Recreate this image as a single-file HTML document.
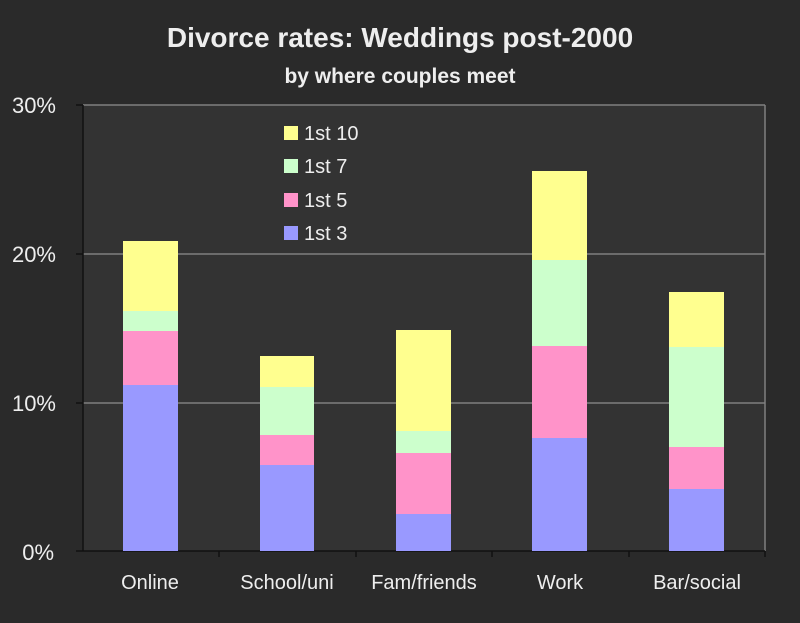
<!DOCTYPE html>
<html><head><meta charset="utf-8"><style>
html,body{margin:0;padding:0;background:#2a2a2a;}
</style></head><body>
<svg width="800" height="618" xmlns="http://www.w3.org/2000/svg" font-family="'Liberation Sans',sans-serif">
<rect width="800" height="618" fill="#2a2a2a"/>
<rect x="83" y="105" width="682" height="446" fill="#333333"/>
<text x="400" y="47" fill="#eee" font-size="28" font-weight="bold" text-anchor="middle">Divorce rates: Weddings post-2000</text>
<text x="400" y="83" fill="#eee" font-size="21" font-weight="bold" text-anchor="middle">by where couples meet</text>
<g stroke="#808080" stroke-width="1.5">
<line x1="83" y1="105" x2="765" y2="105"/>
<line x1="83" y1="254" x2="765" y2="254"/>
<line x1="83" y1="403" x2="765" y2="403"/>
<line x1="765" y1="105" x2="765" y2="551"/>
</g>
<g stroke="#111" stroke-width="1.5">
<line x1="83" y1="105" x2="83" y2="551"/>
<line x1="76" y1="551" x2="765" y2="551"/>
<line x1="76" y1="105" x2="83" y2="105"/><line x1="76" y1="254" x2="83" y2="254"/><line x1="76" y1="403" x2="83" y2="403"/>
<line x1="219" y1="551" x2="219" y2="557"/><line x1="356" y1="551" x2="356" y2="557"/><line x1="492" y1="551" x2="492" y2="557"/><line x1="629" y1="551" x2="629" y2="557"/><line x1="765" y1="551" x2="765" y2="557"/>
</g>
<g fill="#eee" font-size="22" text-anchor="end">
<text x="56" y="113">30%</text><text x="56" y="262">20%</text><text x="56" y="411">10%</text><text x="54" y="560">0%</text>
</g>
<g>
<rect x="123" y="241" width="55" height="70" fill="#ffff8f"/><rect x="123" y="311" width="55" height="20" fill="#ccffcc"/><rect x="123" y="331" width="55" height="54" fill="#ff93c9"/><rect x="123" y="385" width="55" height="166" fill="#9999ff"/>
<rect x="260" y="356" width="54" height="31" fill="#ffff8f"/><rect x="260" y="387" width="54" height="48" fill="#ccffcc"/><rect x="260" y="435" width="54" height="30" fill="#ff93c9"/><rect x="260" y="465" width="54" height="86" fill="#9999ff"/>
<rect x="396" y="330" width="55" height="101" fill="#ffff8f"/><rect x="396" y="431" width="55" height="22" fill="#ccffcc"/><rect x="396" y="453" width="55" height="61" fill="#ff93c9"/><rect x="396" y="514" width="55" height="37" fill="#9999ff"/>
<rect x="532" y="171" width="55" height="89" fill="#ffff8f"/><rect x="532" y="260" width="55" height="86" fill="#ccffcc"/><rect x="532" y="346" width="55" height="92" fill="#ff93c9"/><rect x="532" y="438" width="55" height="113" fill="#9999ff"/>
<rect x="669" y="292" width="55" height="55" fill="#ffff8f"/><rect x="669" y="347" width="55" height="100" fill="#ccffcc"/><rect x="669" y="447" width="55" height="42" fill="#ff93c9"/><rect x="669" y="489" width="55" height="62" fill="#9999ff"/>
</g>
<g font-size="20" fill="#eee">
<rect x="284" y="126" width="14" height="14" fill="#ffff8f"/><text x="304" y="140">1st 10</text>
<rect x="284" y="159" width="14" height="14" fill="#ccffcc"/><text x="304" y="173">1st 7</text>
<rect x="284" y="193" width="14" height="14" fill="#ff93c9"/><text x="304" y="207">1st 5</text>
<rect x="284" y="226" width="14" height="14" fill="#9999ff"/><text x="304" y="240">1st 3</text>
</g>
<g fill="#eee" font-size="20" text-anchor="middle">
<text x="150" y="589">Online</text><text x="287" y="589">School/uni</text><text x="424" y="589">Fam/friends</text><text x="560" y="589">Work</text><text x="697" y="589">Bar/social</text>
</g>
</svg>
</body></html>
